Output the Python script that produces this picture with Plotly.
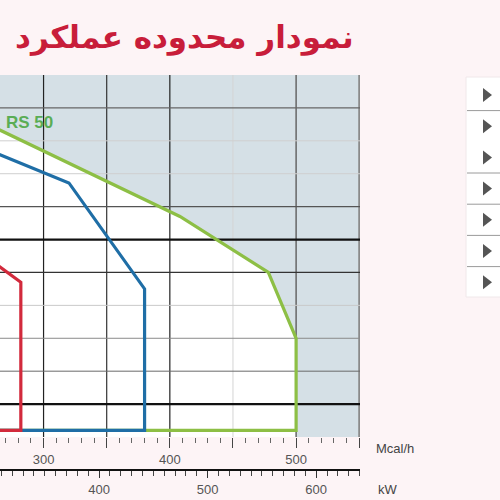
import plotly.graph_objects as go

# Firing-range envelopes: heat output (Mcal/h) vs combustion chamber pressure (mbar)
rs50_mcal = [250, 408, 478, 500, 500, 250]
rs50_mbar = [8.61, 5.70, 4.0, 2.0, -0.8, -0.8]

mid_mcal = [250, 300.3, 320.1, 380, 380, 250]
mid_mbar = [7.82, 7.02, 6.72, 3.5, -0.8, -0.8]

small_mcal = [250, 282, 282, 250]
small_mbar = [4.61, 3.7, -0.8, -0.8]

series_label = "RS 50"
label_pos = (268.5, 8.57)

# Grid values
mcal_grid = [300, 350, 400, 450, 500, 550]
mbar_grid = [0, 1, 2, 3, 4, 5, 6, 7, 8, 9]

# Axis ticks
mcal_ticks = [300, 350, 400, 450, 500, 550]
mcal_ticktext = ["300", "", "400", "", "500", ""]
kw_ticks = [400, 500, 600]
kw_ticktext = ["400", "500", "600"]

title_text = "نمودار محدوده عملکرد"
unit_mcal = "Mcal/h"
unit_kw = "kW"
menu_rows = 7

MCAL_PER_KW = 0.8598
X_RANGE = [265.5, 550.6]
Y_RANGE = [-1, 10]

W, H = 500, 500
ML, MR, MT, MB = 0, 140, 75, 0
PLOT_BOTTOM_PX = 437


def px(xp):
    return (xp - ML) / (W - ML - MR)


def py(yp):
    return (H - MB - yp) / (H - MT - MB)


GREEN = "#8dbf45"
BLUE = "#1f6ea6"
RED = "#d22a3c"
SHADE = "#d5e0e6"
PAGE = "#fdf4f6"

vgrid_style = {300: ("#222", 1.2), 350: ("#333", 1.2), 400: ("#222", 1.2),
               450: ("#d4d4d4", 1), 500: ("#666", 1.5), 550: ("#8a8a8a", 2)}
hgrid_style = {0: ("#111", 2.2), 1: ("#6a6a6a", 1), 2: ("#8a8a8a", 1), 3: ("#c9c9c9", 1),
               4: ("#333", 1.3), 5: ("#111", 2.2), 6: ("#555", 1.2),
               7: ("#cfcfcf", 1), 8: ("#cfcfcf", 1), 9: ("#666", 1.2)}

fig = go.Figure()

# white operating area under the outer envelope
fill_x = rs50_mcal[:4] + [rs50_mcal[3], rs50_mcal[0]]
fill_y = rs50_mbar[:4] + [Y_RANGE[0], Y_RANGE[0]]
fig.add_trace(go.Scatter(x=fill_x, y=fill_y, fill="toself", fillcolor="white",
                         mode="none", hoverinfo="skip", showlegend=False))

# grid lines
for v in mcal_grid:
    c, w = vgrid_style[v]
    fig.add_trace(go.Scatter(x=[v, v], y=Y_RANGE, mode="lines",
                             line=dict(color=c, width=w), hoverinfo="skip",
                             showlegend=False))
for v in mbar_grid:
    c, w = hgrid_style[v]
    fig.add_trace(go.Scatter(x=X_RANGE, y=[v, v], mode="lines",
                             line=dict(color=c, width=w), hoverinfo="skip",
                             showlegend=False))

# envelopes
for xs, ys, col in [(rs50_mcal, rs50_mbar, GREEN), (mid_mcal, mid_mbar, BLUE),
                    (small_mcal, small_mbar, RED)]:
    fig.add_trace(go.Scatter(x=xs, y=ys, mode="lines",
                             line=dict(color=col, width=3.2),
                             hoverinfo="skip", showlegend=False))

# secondary kW scale
fig.add_trace(go.Scatter(x=[], y=[], xaxis="x2", yaxis="y", showlegend=False))

annotations = [
    dict(text=series_label, x=label_pos[0], y=label_pos[1], xref="x", yref="y",
         xanchor="left", yanchor="middle", showarrow=False,
         font=dict(family="Liberation Sans", size=17, color="#5aad55", weight="bold")),
    dict(text=title_text, x=px(356), y=py(37), xref="paper", yref="paper",
         xanchor="right", yanchor="middle", showarrow=False,
         font=dict(family="DejaVu Sans", size=31, color="#c81d3a", weight="bold")),
    dict(text=unit_mcal, x=px(374), y=py(448), xref="paper", yref="paper",
         xanchor="left", yanchor="middle", showarrow=False,
         font=dict(family="Liberation Sans", size=13, color="#444")),
    dict(text=unit_kw, x=px(376), y=py(489), xref="paper", yref="paper",
         xanchor="left", yanchor="middle", showarrow=False,
         font=dict(family="Liberation Sans", size=13, color="#444")),
]

# side menu panel
shapes = [dict(type="rect", xref="paper", yref="paper",
               x0=px(466), x1=px(501), y0=py(297), y1=py(77),
               fillcolor="white", line=dict(color="#f0e8ea", width=1), layer="below")]
row_top, row_step = 95, 31.2
separators_after = [0, 2, 3, 4, 5]
for i in range(menu_rows):
    cy = row_top + i * row_step
    path = "M {} {} L {} {} L {} {} Z".format(px(483), py(cy - 7), px(483), py(cy + 7),
                                             px(492), py(cy))
    shapes.append(dict(type="path", xref="paper", yref="paper", path=path,
                       fillcolor="#555", line=dict(width=0)))
    if i in separators_after:
        sy = cy + row_step / 2
        shapes.append(dict(type="line", xref="paper", yref="paper",
                           x0=px(467), x1=px(501), y0=py(sy), y1=py(sy),
                           line=dict(color="#9a9a9a", width=1)))

fig.update_layout(
    width=W, height=H,
    margin=dict(l=ML, r=MR, t=MT, b=MB),
    paper_bgcolor=PAGE, plot_bgcolor=SHADE,
    showlegend=False,
    xaxis=dict(range=X_RANGE, anchor="y", showgrid=False, zeroline=False,
               showline=False, tickvals=mcal_ticks, ticktext=mcal_ticktext,
               ticks="outside", ticklen=10, tickwidth=1, tickcolor="#444",
               tickfont=dict(family="Liberation Sans", size=13, color="#555"),
               minor=dict(tick0=300, dtick=10, ticks="outside", ticklen=5,
                          tickcolor="#666", showgrid=False)),
    xaxis2=dict(range=[X_RANGE[0] / MCAL_PER_KW, X_RANGE[1] / MCAL_PER_KW],
                overlaying="x", anchor="free", position=py(470), side="bottom",
                showgrid=False, zeroline=False, showline=True, linecolor="#111",
                linewidth=2, tickvals=kw_ticks, ticktext=kw_ticktext,
                ticks="outside", ticklen=7, tickwidth=1, tickcolor="#333",
                tickfont=dict(family="Liberation Sans", size=13, color="#555"),
                minor=dict(tick0=300, dtick=10, ticks="outside", ticklen=5,
                           tickcolor="#444", showgrid=False)),
    yaxis=dict(range=Y_RANGE, domain=[py(PLOT_BOTTOM_PX), 1], visible=False,
               showgrid=False, zeroline=False),
    annotations=annotations,
    shapes=shapes,
)

fig.write_html("out.html")
